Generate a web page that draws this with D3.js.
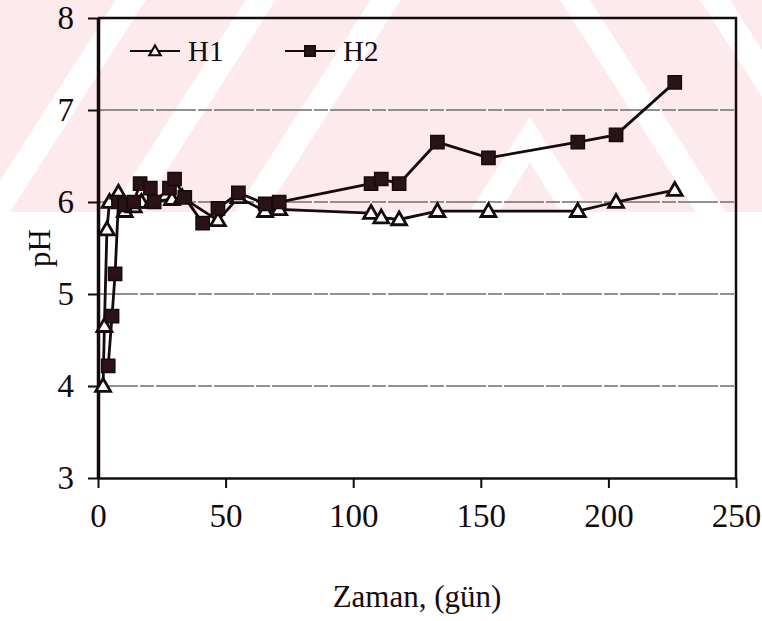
<!DOCTYPE html>
<html>
<head>
<meta charset="utf-8">
<script src="https://cdn.jsdelivr.net/npm/d3@7"></script>
<style>
  body { margin: 0; background: #fff; }
  svg { display: block; font-family: "Liberation Serif", "Times New Roman", serif; }
</style>
</head>
<body>
<svg id="chart" width="762" height="621"></svg>
<script>
// pH over time (days), two series
const h1Days = [2, 2.5, 3.5, 4.5, 8, 10.5, 14, 17, 21, 29, 33, 47, 55, 65.5, 71, 107, 111, 118, 133, 153, 188, 203, 226];
const h1PH = [4.0, 4.65, 5.7, 6.0, 6.1, 5.9, 5.95, 6.0, 6.0, 6.03, 6.05, 5.8, 6.05, 5.9, 5.92, 5.88, 5.83, 5.81, 5.9, 5.9, 5.9, 6.0, 6.13];

const h2Days = [4, 5.5, 6.7, 8, 10.5, 14, 16.5, 20.5, 22, 28, 30, 34, 41, 47, 55, 65.5, 71, 107, 111, 118, 133, 153, 188, 203, 226];
const h2PH = [4.22, 4.76, 5.22, 6.0, 5.97, 6.0, 6.2, 6.15, 6.0, 6.15, 6.25, 6.05, 5.77, 5.93, 6.1, 5.98, 6.0, 6.2, 6.25, 6.2, 6.65, 6.48, 6.65, 6.73, 7.3];

const xTicks = [0, 50, 100, 150, 200, 250];
const yTicks = [3, 4, 5, 6, 7, 8];
const seriesNames = ["H1", "H2"];

const W = 762, H = 621;
const margin = { top: 18, right: 26, bottom: 143, left: 98 };
const ink = "#150a0c";

const svg = d3.select("#chart");

// faint pink watermark band behind the top of the page
function drawWatermark() {
  const g = svg.append("g");
  g.append("clipPath").attr("id", "wm").append("rect")
    .attr("x", 0).attr("y", 0).attr("width", W).attr("height", 212);
  const wg = g.append("g").attr("clip-path", "url(#wm)");
  wg.append("rect").attr("width", W).attr("height", 212).attr("fill", "#fdeaed");
  const s = 0.64, w = 30;
  // "/" stripes, given by their x at y = 212
  [-20, 110, 235].forEach(x0 => {
    wg.append("polygon").attr("fill", "#fff")
      .attr("points", [[x0, 212], [x0 + w, 212], [x0 + w + 212 * s, 0], [x0 + 212 * s, 0]].join(" "));
  });
  // "\" stripes, given by their x at y = 0
  [560, 700].forEach(x0 => {
    wg.append("polygon").attr("fill", "#fff")
      .attr("points", [[x0, 0], [x0 + w, 0], [x0 + w + 212 * s, 212], [x0 + 212 * s, 212]].join(" "));
  });
  // chevron
  const ax = 530, ay = 117;
  wg.append("polygon").attr("fill", "#fff")
    .attr("points", [[ax, ay], [ax + 100 * s, ay + 100], [ax + 100 * s - w, ay + 100], [ax, ay + 100 / 2.2],
      [ax - 100 * s + w, ay + 100], [ax - 100 * s, ay + 100]].join(" "));
}
drawWatermark();

const x = d3.scaleLinear().domain([0, 250]).range([margin.left, W - margin.right]);
const y = d3.scaleLinear().domain([3, 8]).range([H - margin.bottom, margin.top]);

// grid lines
svg.append("g")
  .selectAll("line")
  .data(yTicks.filter(d => d > 3 && d < 8))
  .join("line")
  .attr("x1", x(0)).attr("x2", x(250))
  .attr("y1", d => y(d)).attr("y2", d => y(d))
  .attr("stroke", "#6e6e6e").attr("stroke-width", 1.3)
  .attr("stroke-dasharray", "40 2 14 2");

// axes
const fmt = d3.format("d");
const xAxis = d3.axisBottom(x).tickValues(xTicks).tickFormat(fmt).tickSize(10).tickSizeOuter(0).tickPadding(16);
const yAxis = d3.axisLeft(y).tickValues(yTicks).tickFormat(fmt).tickSize(10).tickSizeOuter(0).tickPadding(14);

const gx = svg.append("g")
  .attr("transform", "translate(0," + y(3) + ")")
  .call(xAxis);
const gy = svg.append("g")
  .attr("transform", "translate(" + x(0) + ",0)")
  .call(yAxis);

[gx, gy].forEach(g => {
  g.select(".domain").attr("stroke", ink).attr("stroke-width", 2.5);
  g.selectAll(".tick line").attr("stroke", ink).attr("stroke-width", 2);
  g.selectAll(".tick text")
    .attr("fill", ink)
    .style("font-family", "Liberation Serif, serif")
    .style("font-size", "33px");
});
gy.select(".domain").attr("stroke-width", 3.5);
gx.selectAll(".tick text").attr("dy", "0.71em");

// top and right frame
svg.append("path")
  .attr("d", `M${x(0)},${y(8)}H${x(250)}V${y(3)}`)
  .attr("fill", "none").attr("stroke", ink).attr("stroke-width", 2.5);

// axis titles
svg.append("text")
  .attr("x", (x(0) + x(250)) / 2).attr("y", 607)
  .attr("text-anchor", "middle")
  .attr("fill", ink)
  .style("font-size", "31px")
  .text("Zaman, (gün)");

svg.append("text")
  .attr("transform", `translate(50, ${y(5.5)}) rotate(-90)`)
  .attr("text-anchor", "middle")
  .attr("fill", ink)
  .style("font-size", "31px")
  .text("pH");

// series
const h1 = h1Days.map((d, i) => [d, h1PH[i]]);
const h2 = h2Days.map((d, i) => [d, h2PH[i]]);
const line = d3.line().x(d => x(d[0])).y(d => y(d[1]));
const tri = d3.symbol().type(d3.symbolTriangle).size(95);
const sq = d3.symbol().type(d3.symbolSquare).size(175);

function drawSeries(data, isSquare) {
  svg.append("path")
    .datum(data)
    .attr("d", line)
    .attr("fill", "none")
    .attr("stroke", ink)
    .attr("stroke-width", 2.8);
  svg.append("g")
    .selectAll("path")
    .data(data)
    .join("path")
    .attr("transform", d => `translate(${x(d[0])},${y(d[1]) + (isSquare ? 0 : 1)})`)
    .attr("d", isSquare ? sq : tri)
    .attr("fill", isSquare ? "#2a1317" : "#fff")
    .attr("stroke", ink)
    .attr("stroke-width", isSquare ? 1.5 : 2.8);
}
drawSeries(h1, false);
drawSeries(h2, true);

// legend
const legend = svg.append("g");
const legendItems = [
  { name: seriesNames[0], x0: 130, square: false },
  { name: seriesNames[1], x0: 285, square: true }
];
legendItems.forEach(it => {
  const g = legend.append("g").attr("transform", `translate(${it.x0},51)`);
  g.append("line").attr("x1", 0).attr("x2", 50).attr("stroke", ink).attr("stroke-width", 2);
  g.append("path")
    .attr("transform", `translate(25,${it.square ? 0 : 1})`)
    .attr("d", it.square ? d3.symbol().type(d3.symbolSquare).size(110) : d3.symbol().type(d3.symbolTriangle).size(55))
    .attr("fill", it.square ? "#2a1317" : "#fff")
    .attr("stroke", ink)
    .attr("stroke-width", it.square ? 1.5 : 2.2);
  g.append("text")
    .attr("x", 58).attr("y", 0).attr("dy", "0.35em")
    .attr("fill", ink)
    .style("font-size", "29px")
    .text(it.name);
});
</script>
</body>
</html>
